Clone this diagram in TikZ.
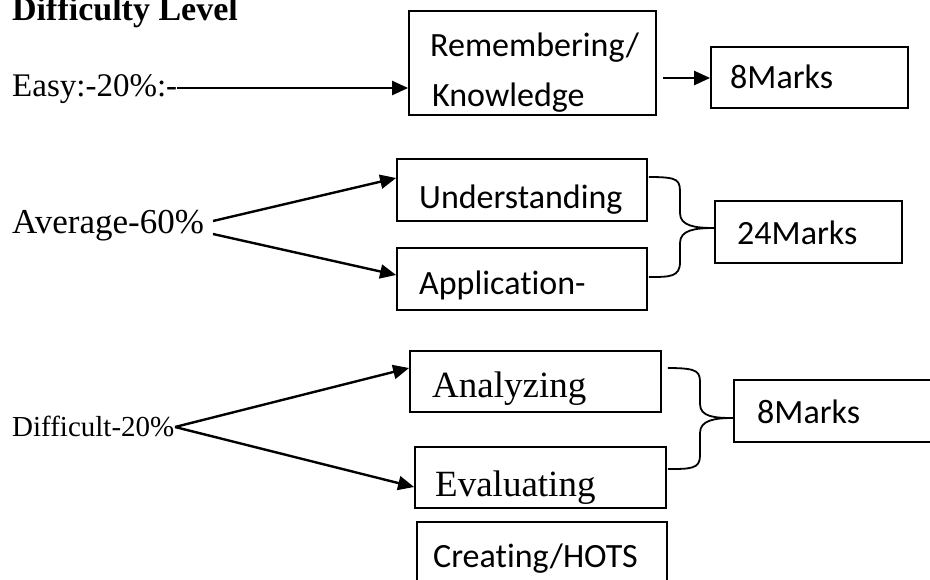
\documentclass[tikz,border=0pt]{standalone}
\usepackage{fontspec}
\setmainfont{Liberation Serif}
\newfontfamily\calfont[Ligatures=NoCommon]{Carlito}
\usetikzlibrary{arrows.meta}
\begin{document}
\begin{tikzpicture}[x=1pt,y=-1pt,
  box/.style={draw, line width=1.8pt, inner sep=0pt},
  lbl/.style={anchor=base west, inner sep=0pt},
  ser/.style={font=\fontsize{33}{40}\selectfont},
  serbig/.style={font=\fontsize{37}{44}\selectfont},
  sans/.style={font=\calfont\fontsize{34}{40}\selectfont},
  arr/.style={line width=2.4pt, -{Triangle[length=16pt,width=14pt]}},
  brace/.style={line width=1.8pt}]
\useasboundingbox (0,0) rectangle (930,579);
% boxes
\node[box, minimum width=247, minimum height=104] (rem) at (532.5,63) {};
\node[box, minimum width=197, minimum height=61] (m1) at (809.5,77.5) {};
\node[box, minimum width=250, minimum height=62] (und) at (522,190) {};
\node[box, minimum width=250, minimum height=62] (app) at (522,279) {};
\node[box, minimum width=187, minimum height=62] (m2) at (808.5,232) {};
\node[box, minimum width=251, minimum height=61] (ana) at (535.5,381.5) {};
\node[box, minimum width=251, minimum height=61] (eva) at (540.5,477.5) {};
\node[box, minimum width=250, minimum height=80] (cre) at (542,562) {};
\node[box, minimum width=210, minimum height=62] (m3) at (839,411) {};
% texts
\node[lbl, font=\bfseries\fontsize{34}{40}\selectfont] (title) at (12,20) {Difficulty Level};
\node[lbl, ser] (easy) at (12,96) {Easy:-20\%:-};
\node[lbl, font=\fontsize{35}{42}\selectfont] (avg) at (12,233) {Average-60\%};
\node[lbl, font=\fontsize{29}{34}\selectfont] (dif) at (12,436) {Difficult-20\%};
\node[lbl, sans] (tr1) at (430,56) {Remembering/};
\node[lbl, sans] (tr2) at (432,106) {Knowledge};
\node[lbl, sans] (tm1) at (730,88) {8Marks};
\node[lbl, sans] (tund) at (419,208) {Understanding};
\node[lbl, sans] (tapp) at (419,294) {Application-};
\node[lbl, sans] (tm2) at (737,244) {24Marks};
\node[lbl, serbig] (tana) at (432,397) {Analyzing};
\node[lbl, serbig] (teva) at (435,496) {Evaluating};
\node[lbl, sans] (tm3) at (757,423) {8Marks};
\node[lbl, sans] (tcre) at (433,567) {Creating/HOTS};
% arrow start points
\coordinate (e0) at (177,88);
\coordinate (r0) at (663,78);
\coordinate (a1) at (213,221);
\coordinate (a2) at (213,234);
\coordinate (d0) at (175,427);
\draw[arr] (e0) -- (rem.west |- e0);
\draw[arr] (r0) -- (m1.west |- r0);
\draw[arr] (a1) -- (und.west |- 0,178);
\draw[arr] (a2) -- (app.west |- 0,275);
\draw[arr] (d0) -- (ana.west |- 0,368);
\draw[arr] (d0) -- (eva.west |- 0,487);
% braces
\draw[brace] ([xshift=1]und.east |- 0,177) .. controls (680,177) and (680,180) .. (680,195)
  -- (680,213) .. controls (680,226) and (695,228) .. (m2.west |- 0,228);
\draw[brace] (m2.west |- 0,228) .. controls (695,228) and (680,230) .. (680,243)
  -- (680,262) .. controls (680,277) and (670,277) .. ([xshift=1]app.east |- 0,277);
\draw[brace] ([xshift=6]ana.east |- 0,368) .. controls (700,368) and (700,372) .. (700,385)
  -- (700,404) .. controls (700,417) and (715,418) .. (m3.west |- 0,418);
\draw[brace] (m3.west |- 0,418) .. controls (715,418) and (700,420) .. (700,433)
  -- (700,456) .. controls (700,469) and (690,469) .. ([xshift=1]eva.east |- 0,469);
\end{tikzpicture}
\end{document}
